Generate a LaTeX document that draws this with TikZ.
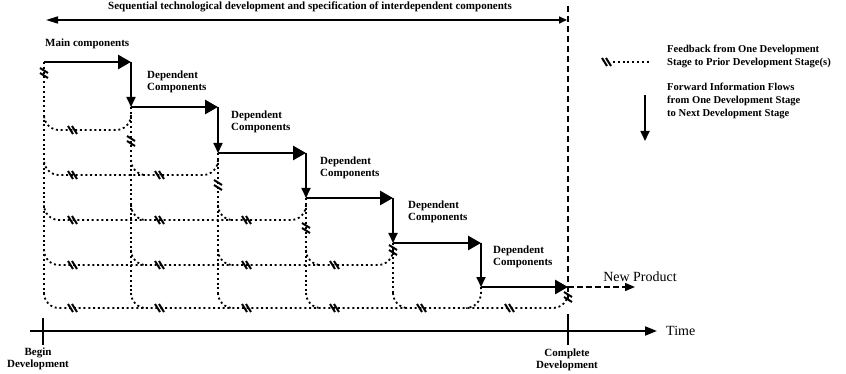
\documentclass[tikz,border=0pt]{standalone}
\usepackage{fontspec}
\setmainfont{Liberation Serif}
\usetikzlibrary{arrows.meta}
\newcommand\fbmh[2]{\draw[fbm] (#1-5,#2-4) -- (#1,#2+4) (#1-1,#2-4) -- (#1+4,#2+4);}
\newcommand\fbmv[2]{\draw[fbm] (#1-4,#2-5) -- (#1+4,#2) (#1-4,#2) -- (#1+4,#2+5);}
\begin{document}
\begin{tikzpicture}[x=1pt,y=-1pt,
  lab/.style={font=\bfseries\fontsize{11}{12.5}\selectfont, inner sep=0pt, align=left},
  leg/.style={font=\bfseries\fontsize{10.6}{13}\selectfont, inner sep=0pt, align=left},
  big/.style={font=\fontsize{14}{16}\selectfont, inner sep=0pt},
  steparrow/.style={line width=2.8pt, -{Triangle[length=13pt,width=14pt]}},
  downarrow/.style={line width=1.7pt, -{Triangle[length=10pt,width=9pt]}},
  fb/.style={line width=1.8pt, dash pattern=on 2pt off 2.8pt, rounded corners=15pt},
  fbm/.style={line width=2pt},
  bounddash/.style={line width=1.8pt, dash pattern=on 6pt off 4pt},
  axis/.style={line width=1.9pt},
]
\useasboundingbox (0,0) rectangle (846,374);
% step coordinates
\coordinate (a1) at (44,62);  \coordinate (b1) at (131,62);
\coordinate (a2) at (131,107);\coordinate (b2) at (218,107);
\coordinate (a3) at (218,153);\coordinate (b3) at (306,153);
\coordinate (a4) at (306,198);\coordinate (b4) at (393,198);
\coordinate (a5) at (393,243);\coordinate (b5) at (481,243);
\coordinate (a6) at (481,287);\coordinate (b6) at (568,287);

% feedback dotted verticals
\draw[fb] (44,62) -- (44,293);
\draw[fb] (131,107) -- (131,293);
\draw[fb] (218,153) -- (218,293);
\draw[fb] (306,198) -- (306,293);
\draw[fb] (393,243) -- (393,293);
% rows
\foreach \R/\xr in {130/131,175/218,220/306,265/393}{
  \draw[fb] (\xr,\R-15) -- (\xr,\R) -- (44,\R) -- (44,\R-15);
}
\foreach \R/\xs in {175/{131},220/{131,218},265/{131,218,306}}{
  \foreach \xj in \xs {\draw[fb] (\xj,\R-15) -- (\xj,\R) -- (\xj+15,\R);}
}
% bottom row
\draw[fb] (44,293) -- (44,308) -- (568,308) -- (568,292);
\foreach \xj in {131,218,306,393}{\draw[fb] (\xj,293) -- (\xj,308) -- (\xj+15,308);}
\draw[fb] (481,287) -- (481,308) -- (466,308);
% feedback marks
\fbmh{73}{130}
\foreach \mx in {73,160}{\fbmh{\mx}{175}}
\foreach \mx in {73,160,247}{\fbmh{\mx}{220}}
\foreach \mx in {73,160,247,335}{\fbmh{\mx}{265}}
\foreach \mx in {73,160,247,335,422,510}{\fbmh{\mx}{308}}
\fbmv{44}{73}
\fbmv{131}{141}
\fbmv{218}{185}
\fbmv{306}{228}
\fbmv{393}{250}
\fbmv{568}{297}

% solid steps
\draw[steparrow] (a1) -- (b1);
\draw[downarrow] (b1) -- (a2);
\draw[steparrow] (a2) -- (b2);
\draw[downarrow] (b2) -- (a3);
\draw[steparrow] (a3) -- (b3);
\draw[downarrow] (b3) -- (a4);
\draw[steparrow] (a4) -- (b4);
\draw[downarrow] (b4) -- (a5);
\draw[steparrow] (a5) -- (b5);
\draw[downarrow] (b5) -- (a6);
\draw[steparrow] (a6) -- (b6);

% labels
\node[lab, anchor=west] (main) at (45,44) {Main components};
\node[lab, anchor=west] (d1) at (147,82) {Dependent\\Components};
\node[lab, anchor=west] (d2) at (231,122) {Dependent\\Components};
\node[lab, anchor=west] (d3) at (320,168) {Dependent\\Components};
\node[lab, anchor=west] (d4) at (408,212) {Dependent\\Components};
\node[lab, anchor=west] (d5) at (493,257) {Dependent\\Components};

% top span arrow
\coordinate (tl) at (46,20);
\coordinate (tr) at (567,20);
\draw[line width=1.6pt, {Triangle[length=12pt,width=7pt]}-{Triangle[length=8pt,width=7pt]}] (tl) -- (tr);
\node[lab] (seq) at (310,7) {Sequential technological development and specification of interdependent components};

% completion boundary
\coordinate (bt) at (568,6);
\coordinate (bb) at (568,300);
\draw[bounddash] (bt) -- (bb);

% new product
\coordinate (np) at (635,287);
\draw[line width=1.4pt, dash pattern=on 6pt off 3pt, -{Triangle[length=10pt,width=8pt]}] (b6) -- (np);
\node[big] (newp) at (640,277) {New Product};

% time axis
\coordinate (t0) at (30,331);
\coordinate (t1) at (657,331);
\draw[axis, -{Triangle[length=12pt,width=9pt]}] (t0) -- (t1);
\node[big, anchor=west] (time) at (666,331) {Time};
\coordinate (k1a) at (43,318); \coordinate (k1b) at (43,345);
\coordinate (k2a) at (568,314); \coordinate (k2b) at (568,345);
\draw[line width=1.6pt] (k1a) -- (k1b);
\draw[line width=1.6pt] (k2a) -- (k2b);
\node[lab, align=center] (begin) at (38,359) {Begin\\Development};
\node[lab, align=center] (compl) at (567,360) {Complete\\Development};

% legend
\fbmh{607}{62}
\coordinate (lf0) at (613,62); \coordinate (lf1) at (650,62);
\draw[fb] (lf0) -- (lf1);
\node[leg, anchor=west] (legfb) at (667,56) {Feedback from One Development\\Stage to Prior Development Stage(s)};
\coordinate (lw0) at (645,95); \coordinate (lw1) at (645,141);
\draw[downarrow] (lw0) -- (lw1);
\node[leg, anchor=west] (legfw) at (667,101) {Forward Information Flows\\from One Development Stage\\to Next Development Stage};
\end{tikzpicture}
\end{document}
